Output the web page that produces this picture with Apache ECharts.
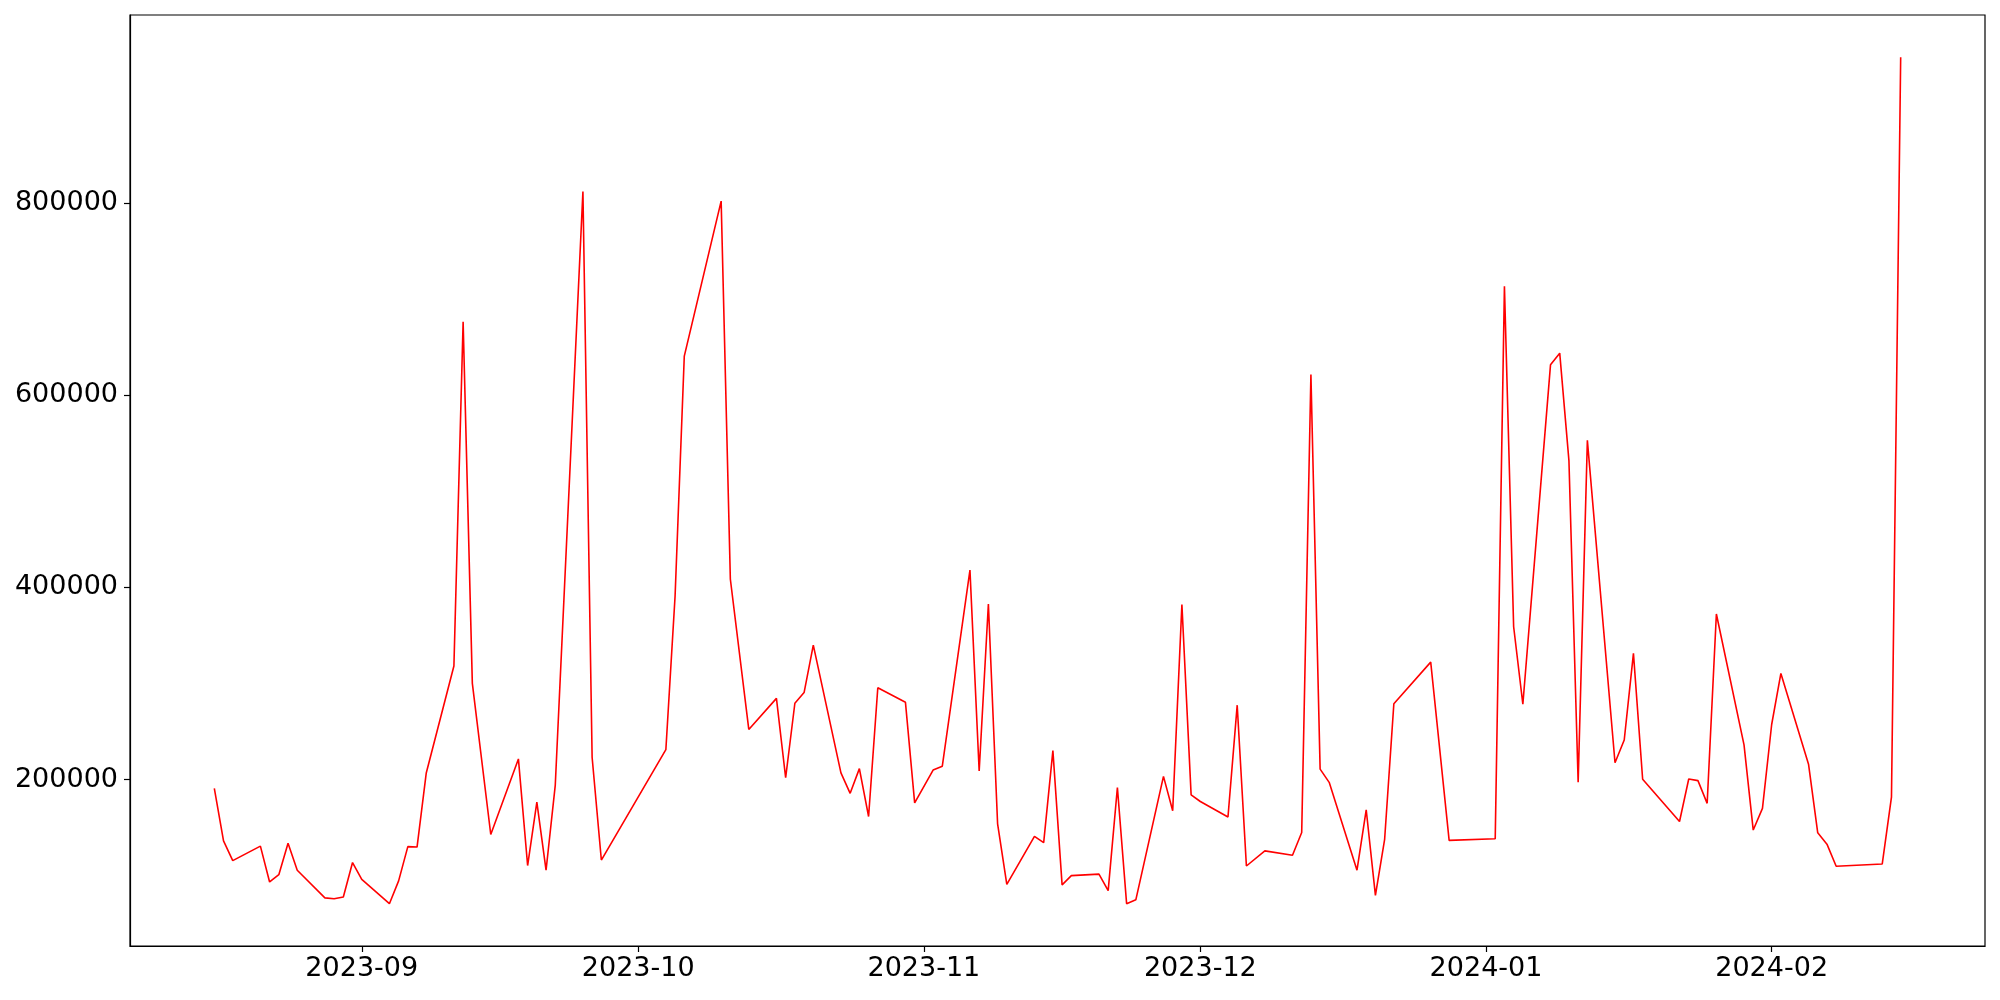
<!DOCTYPE html>
<html>
<head>
<meta charset="utf-8">
<script src="https://cdn.jsdelivr.net/npm/echarts@6/dist/echarts.min.js"></script>
<style>
html,body{margin:0;padding:0;background:#fff;}
#chart{width:2000px;height:1000px;}
</style>
</head>
<body>
<div id="chart"></div>
<script>
const dates = ['2023-08-16','2023-08-17','2023-08-18','2023-08-21','2023-08-22','2023-08-23','2023-08-24','2023-08-25',
'2023-08-28','2023-08-29','2023-08-30','2023-08-31','2023-09-01','2023-09-04','2023-09-05','2023-09-06','2023-09-07','2023-09-08',
'2023-09-11','2023-09-12','2023-09-13','2023-09-15','2023-09-18','2023-09-19','2023-09-20','2023-09-21','2023-09-22',
'2023-09-25','2023-09-26','2023-09-27','2023-10-04','2023-10-05','2023-10-06','2023-10-10','2023-10-11','2023-10-13',
'2023-10-16','2023-10-17','2023-10-18','2023-10-19','2023-10-20','2023-10-23','2023-10-24','2023-10-25','2023-10-26','2023-10-27',
'2023-10-30','2023-10-31','2023-11-02','2023-11-03','2023-11-06','2023-11-07','2023-11-08','2023-11-09','2023-11-10',
'2023-11-13','2023-11-14','2023-11-15','2023-11-16','2023-11-17','2023-11-20','2023-11-21','2023-11-22','2023-11-23','2023-11-24',
'2023-11-27','2023-11-28','2023-11-29','2023-11-30','2023-12-01','2023-12-04','2023-12-05','2023-12-06','2023-12-08',
'2023-12-11','2023-12-12','2023-12-13','2023-12-14','2023-12-15','2023-12-18','2023-12-19','2023-12-20','2023-12-21','2023-12-22',
'2023-12-26','2023-12-28','2024-01-02','2024-01-03','2024-01-04','2024-01-05','2024-01-08','2024-01-09','2024-01-10','2024-01-11','2024-01-12',
'2024-01-15','2024-01-16','2024-01-17','2024-01-18','2024-01-22','2024-01-23','2024-01-24','2024-01-25','2024-01-26',
'2024-01-29','2024-01-30','2024-01-31','2024-02-01','2024-02-02','2024-02-05','2024-02-06','2024-02-07','2024-02-08',
'2024-02-13','2024-02-14','2024-02-15'];

const values = [190700,136200,115600,130700,93400,101000,133700,105600,
76800,75900,77800,113600,96000,70800,94500,130200,129700,206800,
318100,676200,300000,142800,221400,110500,176500,105600,194200,
811700,222900,116200,231000,390600,640500,801700,408300,252100,
284400,201800,279300,290400,339800,206800,185600,211300,161500,295400,
280300,175600,209800,213800,417800,208800,382600,153900,90900,
140800,134300,230000,90400,100000,101500,84400,191700,70800,74800,
203200,167500,382100,184100,177100,161000,277300,110000,125700,
121200,144800,621300,210800,196700,105600,168500,79400,137800,278800,
322100,136700,138300,713000,358900,278300,631400,643500,531700,197200,552800,
217400,241100,331200,200200,156300,200500,198800,175200,372200,
236000,147400,169900,257200,310300,215900,144500,132700,109700,
112100,181600,951300];

const seriesData = dates.map((d, i) => [d, values[i]]);

const FONT = 'DejaVu Sans';
const chart = echarts.init(document.getElementById('chart'), null, {renderer: 'canvas', width: 2000, height: 1000});
chart.setOption({
  animation: false,
  backgroundColor: '#ffffff',
  grid: {left: 130, right: 15, top: 15, bottom: 54, show: true, borderColor: '#000', borderWidth: 1.2, backgroundColor: 'transparent'},
  xAxis: {
    type: 'time',
    min: v => v.min - 0.05 * (v.max - v.min),
    max: v => v.max + 0.05 * (v.max - v.min),
    splitNumber: 6,
    minInterval: 28 * 86400000,
    axisLine: {show: true, lineStyle: {color: '#000', width: 1.2}},
    axisTick: {show: true, length: 6, inside: false, lineStyle: {color: '#000', width: 1.2}},
    splitLine: {show: false},
    axisLabel: {
      show: true, color: '#000', fontFamily: FONT, fontSize: 27, margin: 9,
      showMinLabel: false, showMaxLabel: false, hideOverlap: false,
      formatter: function (val) {
        const d = new Date(val);
        return d.getFullYear() + '-' + String(d.getMonth() + 1).padStart(2, '0');
      }
    }
  },
  yAxis: {
    type: 'value',
    min: v => v.min - 0.05 * (v.max - v.min),
    max: v => v.max + 0.05 * (v.max - v.min),
    splitNumber: 5,
    axisLine: {show: true, lineStyle: {color: '#000', width: 1.2}},
    axisTick: {show: true, length: 6, inside: false, lineStyle: {color: '#000', width: 1.2}},
    splitLine: {show: false},
    axisLabel: {
      show: true, color: '#000', fontFamily: FONT, fontSize: 27, margin: 12,
      showMinLabel: false, showMaxLabel: false,
      formatter: function (val) { return (val % 200000 === 0) ? String(val) : ''; }
    }
  },
  series: [{
    type: 'line',
    data: seriesData,
    showSymbol: false,
    symbol: 'none',
    lineStyle: {color: '#ff0000', width: 1.6},
    itemStyle: {color: '#ff0000'}
  }]
});
</script>
</body>
</html>
